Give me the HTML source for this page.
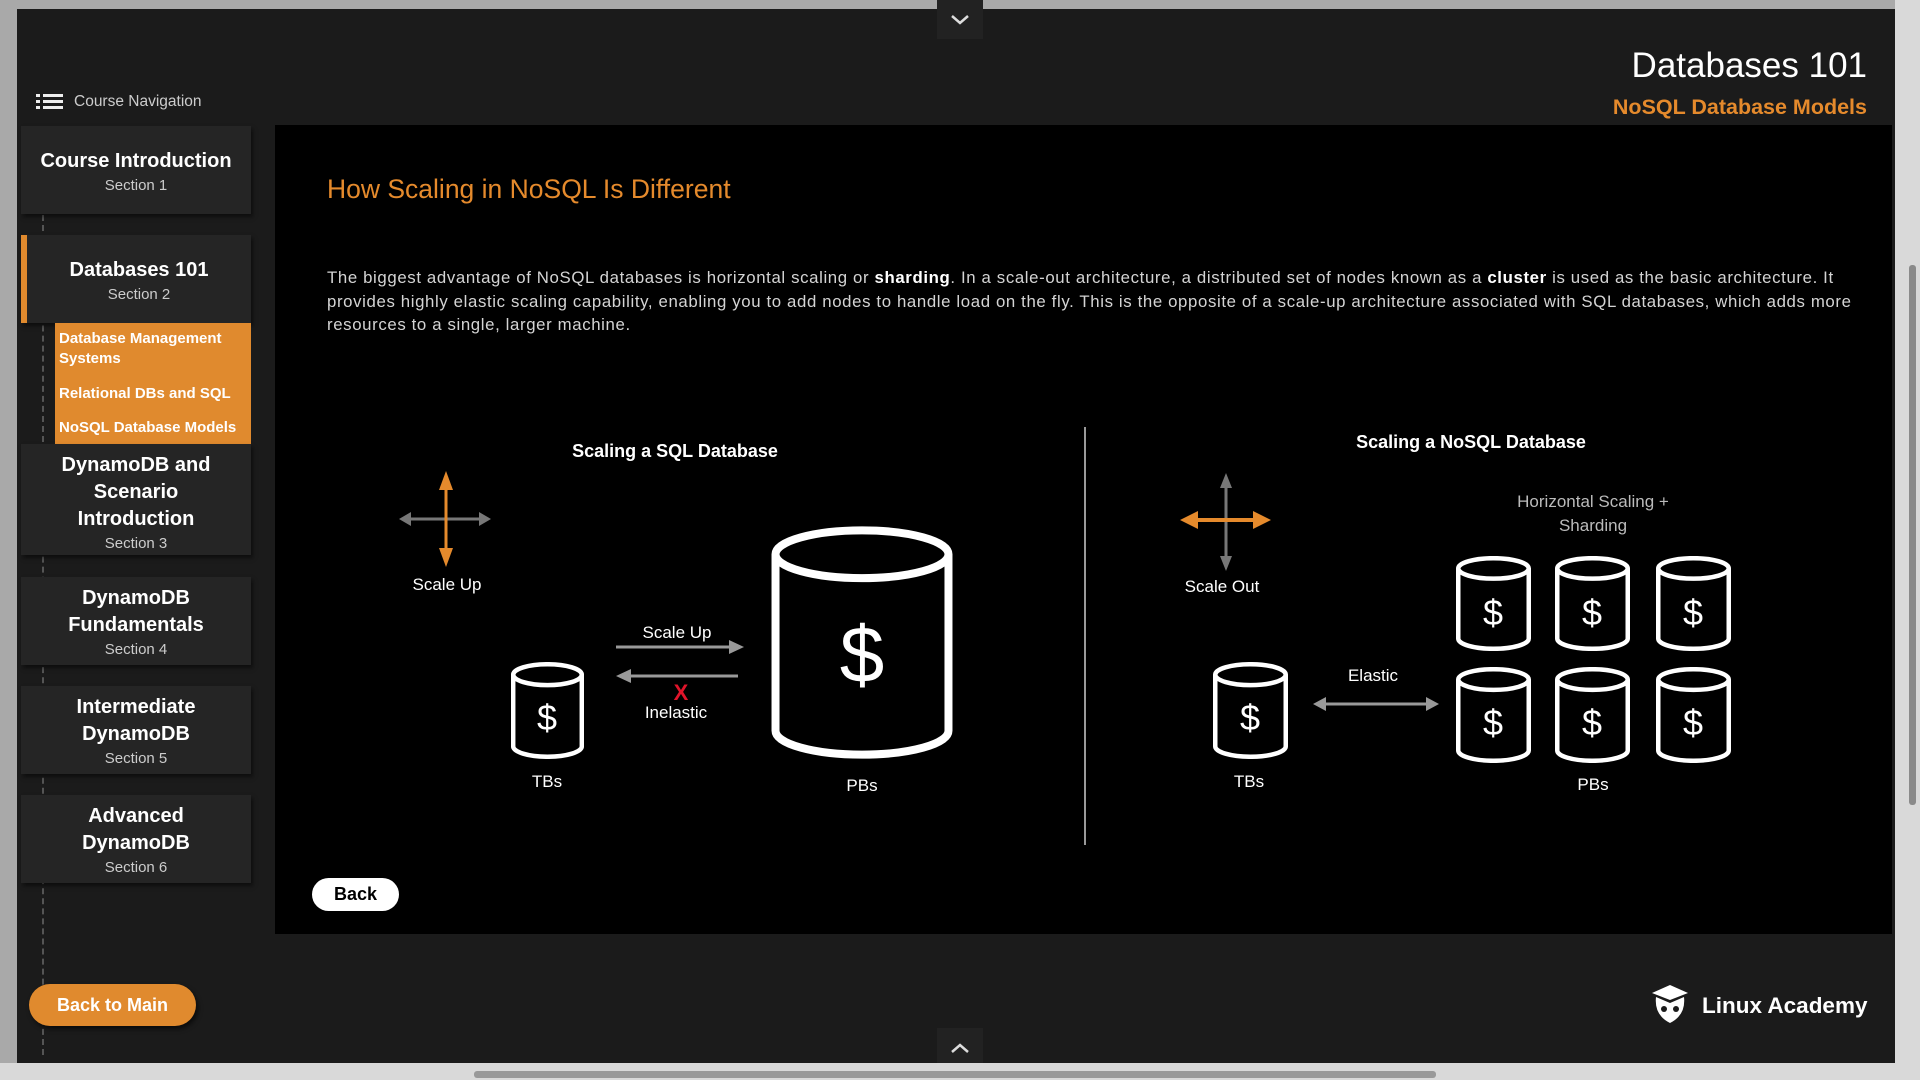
<!DOCTYPE html>
<html><head><meta charset="utf-8"><style>
*{margin:0;padding:0;box-sizing:border-box}
body{width:1920px;height:1080px;background:#a9a9a9;font-family:"Liberation Sans",sans-serif;position:relative;overflow:hidden;color:#fff}
.app{position:absolute;left:17px;top:9px;width:1878px;height:1054px;background:#1b1b1b}
.abs{position:absolute}
.card{position:absolute;left:21px;width:230px;background:#252525;text-align:center;box-shadow:2px 3px 4px rgba(0,0,0,.5)}
.card b{display:block;font-size:20px;line-height:27px}
.card span{display:block;font-size:15px;color:#ccc;margin-top:2px}
.sub{position:absolute;left:55px;width:196px;background:#e08a2e;font-size:15px;font-weight:bold;padding-left:4px;line-height:20px}
</style></head><body>
<div class="app"></div>
<div class="abs" style="left:1895px;top:0;width:25px;height:1080px;background:#d9d9d9"></div>
<div class="abs" style="left:1909px;top:265px;width:7px;height:540px;background:#8a8a8a;border-radius:3px"></div>
<div class="abs" style="left:0;top:1063px;width:1920px;height:17px;background:#d9d9d9"></div>
<div class="abs" style="left:474px;top:1071px;width:962px;height:7px;background:#999;border-radius:3px"></div>
<div class="abs" style="left:937px;top:0;width:46px;height:39px;background:#222"></div>
<div class="abs" style="left:937px;top:1028px;width:46px;height:35px;background:#222"></div>
<svg class="abs" style="left:950px;top:1042px" width="20" height="12"><polyline points="2,10 10,3 18,10" fill="none" stroke="#ddd" stroke-width="2.5"/></svg>
<svg class="abs" style="left:950px;top:14px" width="20" height="12"><polyline points="2,2 10,9 18,2" fill="none" stroke="#ddd" stroke-width="2.5"/></svg>

<div class="abs" style="right:53px;top:46px;font-size:35px">Databases 101</div>
<div class="abs" style="right:53px;top:95px;font-size:21.5px;font-weight:bold;color:#e58a2c">NoSQL Database Models</div>

<svg class="abs" style="left:36px;top:93px" width="28" height="18"><g fill="#eee"><rect x="0" y="1" width="4" height="3"/><rect x="7" y="1" width="20" height="3"/><rect x="0" y="7" width="4" height="3"/><rect x="7" y="7" width="20" height="3"/><rect x="0" y="13" width="4" height="3"/><rect x="7" y="13" width="20" height="3"/></g></svg>
<div class="abs" style="left:74px;top:93px;font-size:15.5px;color:#ccc">Course Navigation</div>

<div class="abs" style="left:42px;top:215px;height:840px;border-left:2px dashed #555"></div>

<div class="card" style="top:126px;height:88px;padding-top:22px"><b>Course Introduction</b><span>Section 1</span></div>
<div class="card" style="top:235px;height:88px;padding-top:22px;border-left:6px solid #e08a2e"><b>Databases 101</b><span>Section 2</span></div>
<div class="sub" style="top:323px;height:51px;padding-top:6px">Database Management Systems</div>
<div class="sub" style="top:374px;height:35px;padding-top:10px">Relational DBs and SQL</div>
<div class="sub" style="top:409px;height:35px;padding-top:9px">NoSQL Database Models</div>
<div class="card" style="top:444px;height:111px;padding-top:8px"><b>DynamoDB and<br>Scenario<br>Introduction</b><span>Section 3</span></div>
<div class="card" style="top:577px;height:88px;padding-top:8px"><b>DynamoDB<br>Fundamentals</b><span>Section 4</span></div>
<div class="card" style="top:686px;height:88px;padding-top:8px"><b>Intermediate<br>DynamoDB</b><span>Section 5</span></div>
<div class="card" style="top:795px;height:88px;padding-top:8px"><b>Advanced<br>DynamoDB</b><span>Section 6</span></div>
<div class="abs" style="left:29px;top:984px;width:167px;height:42px;background:#e08a2e;border-radius:21px;font-size:18px;font-weight:bold;text-align:center;line-height:42px;box-shadow:2px 3px 5px rgba(0,0,0,.6)">Back to Main</div>

<div class="abs" style="left:275px;top:125px;width:1617px;height:809px;background:#000"></div>
<div class="abs" style="left:327px;top:174px;font-size:26.5px;color:#e58a2c">How Scaling in NoSQL Is Different</div>
<div class="abs" style="left:327px;top:266px;font-size:16.8px;line-height:23.5px;color:#d4d4d4;letter-spacing:0.63px;white-space:nowrap">The biggest advantage of NoSQL databases is horizontal scaling or <b style="color:#fff">sharding</b>. In a scale-out architecture, a distributed set of nodes known as a <b style="color:#fff">cluster</b> is used as the basic architecture. It<br>provides highly elastic scaling capability, enabling you to add nodes to handle load on the fly. This is the opposite of a scale-up architecture associated with SQL databases, which adds more<br>resources to a single, larger machine.</div>
<div class="abs" style="left:312px;top:878px;width:87px;height:33px;background:#fff;border-radius:17px;color:#000;font-weight:bold;font-size:18px;text-align:center;line-height:33px">Back</div>

<svg class="abs" style="left:0;top:0" width="1920" height="1080" font-family="Liberation Sans, sans-serif">
<defs>
<symbol id="cyl" viewBox="0 0 100 130" preserveAspectRatio="none">
<path d="M3,17 A47,14 0 0 1 97,17 A47,14 0 0 1 3,17 Z M3,17 V113 A47,14 0 0 0 97,113 V17" fill="none" stroke="#fff" stroke-width="4.5" vector-effect="non-scaling-stroke"/>
</symbol>
</defs>
<line x1="1085" y1="427" x2="1085" y2="845" stroke="#999" stroke-width="2"/>
<g fill="#fff" text-anchor="middle">
<text x="675" y="457" font-size="18" font-weight="bold">Scaling a SQL Database</text>
<text x="1471" y="448" font-size="18" font-weight="bold">Scaling a NoSQL Database</text>
<text x="447" y="590" font-size="17">Scale Up</text>
<text x="1222" y="592" font-size="17">Scale Out</text>
<text x="547" y="787" font-size="17">TBs</text>
<text x="862" y="791" font-size="17">PBs</text>
<text x="677" y="638" font-size="17">Scale Up</text>
<text x="676" y="718" font-size="17">Inelastic</text>
<text x="1249" y="787" font-size="17">TBs</text>
<text x="1373" y="681" font-size="17">Elastic</text>
<text x="1593" y="790" font-size="17">PBs</text>
<text x="1593" y="507" font-size="17" fill="#bbb">Horizontal Scaling +</text>
<text x="1593" y="531" font-size="17" fill="#bbb">Sharding</text>
</g>
<g stroke="#777" stroke-width="3" fill="#777"><line x1="408" y1="519" x2="482" y2="519"/><polygon points="399,519 411,512 411,526" stroke="none"/><polygon points="491,519 479,512 479,526" stroke="none"/></g>
<g stroke="#e58a2c" stroke-width="3" fill="#e58a2c"><line x1="446" y1="482" x2="446" y2="556"/><polygon points="446,471 439,490 453,490" stroke="none"/><polygon points="446,567 439,548 453,548" stroke="none"/></g>
<g stroke="#777" stroke-width="3" fill="#777"><line x1="1226" y1="482" x2="1226" y2="562"/><polygon points="1226,473 1220,488 1232,488" stroke="none"/><polygon points="1226,571 1220,556 1232,556" stroke="none"/></g>
<g stroke="#e58a2c" stroke-width="4" fill="#e58a2c"><line x1="1192" y1="520" x2="1259" y2="520"/><polygon points="1180,520 1198,511 1198,529" stroke="none"/><polygon points="1271,520 1253,511 1253,529" stroke="none"/></g>
<g stroke="#999" stroke-width="3" fill="#999"><line x1="616" y1="647" x2="732" y2="647"/><polygon points="744,647 729,640 729,654" stroke="none"/>
<line x1="628" y1="676" x2="738" y2="676"/><polygon points="616,676 631,669 631,683" stroke="none"/>
<line x1="1323" y1="704" x2="1429" y2="704"/><polygon points="1313,704 1326,697 1326,711" stroke="none"/><polygon points="1439,704 1426,697 1426,711" stroke="none"/></g>
<text x="681" y="700" fill="#e0142a" font-size="22" font-weight="bold" text-anchor="middle">X</text>
<use href="#cyl" x="511" y="662" width="73" height="97"/>
<svg x="770" y="523" width="184" height="239" viewBox="0 0 100 130" preserveAspectRatio="none"><path d="M3,17 A47,13 0 0 1 97,17 A47,13 0 0 1 3,17 Z M3,17 V113 A47,13 0 0 0 97,113 V17" fill="none" stroke="#fff" stroke-width="8" vector-effect="non-scaling-stroke"/></svg>
<use href="#cyl" x="1213" y="662" width="75" height="97"/>
<use href="#cyl" x="1456" y="556" width="75" height="95"/>
<use href="#cyl" x="1555" y="556" width="75" height="95"/>
<use href="#cyl" x="1656" y="556" width="75" height="95"/>
<use href="#cyl" x="1456" y="667" width="75" height="96"/>
<use href="#cyl" x="1555" y="667" width="75" height="96"/>
<use href="#cyl" x="1656" y="667" width="75" height="96"/>
<g fill="#fff" text-anchor="middle" font-size="36">
<text x="547" y="730">$</text>
<text x="862" y="682" font-size="80">$</text>
<text x="1250" y="730">$</text>
<text x="1493" y="625">$</text><text x="1592" y="625">$</text><text x="1693" y="625">$</text>
<text x="1493" y="735">$</text><text x="1592" y="735">$</text><text x="1693" y="735">$</text>
</g>
<g transform="translate(1650,985)"><polygon points="20,0 38,8 20,15 2,8" fill="#fff"/><path d="M6,12 Q4,30 20,38 Q36,30 34,12 L20,18 Z" fill="#fff"/><circle cx="14" cy="24" r="3" fill="#1b1b1b"/><circle cx="26" cy="24" r="3" fill="#1b1b1b"/></g>
<text x="1702" y="1013" fill="#fff" font-size="22.5" font-weight="bold">Linux Academy</text>
</svg>
</body></html>
